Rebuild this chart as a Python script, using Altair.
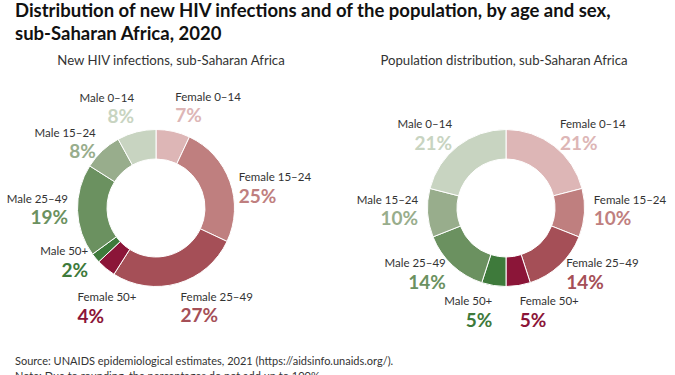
import altair as alt
import pandas as pd

categories = ["Female 0–14", "Female 15–24", "Female 25–49", "Female 50+",
              "Male 50+", "Male 25–49", "Male 15–24", "Male 0–14"]
hiv_values = [7, 25, 27, 4, 2, 19, 8, 8]
pop_values = [21, 10, 14, 5, 5, 14, 10, 21]
colors = ["#ddb6b6", "#bf7f7f", "#a54f57", "#8b1538",
          "#3e7a3b", "#6b9160", "#98ad8c", "#c8d4c1"]

main_title = ["Distribution of new HIV infections and of the population, by age and sex,",
              "sub-Saharan Africa, 2020"]
left_title = "New HIV infections, sub-Saharan Africa"
right_title = "Population distribution, sub-Saharan Africa"
footer = ["Source: UNAIDS epidemiological estimates, 2021 (https://aidsinfo.unaids.org/).",
          "Note:  Due to rounding, the percentages do not add up to 100%."]

FONT = "Lato"
W, H = 300, 240
CX, CY = W / 2, H / 2
RX, RY = 88, 105
color_scale = alt.Scale(domain=categories, range=colors)


def donut(values, title, dx):
    df = pd.DataFrame({
        "idx": list(range(len(categories))),
        "cat": categories,
        "val": values,
    })
    df["sex"] = [c.split(" ")[0] for c in categories]
    df["pct"] = [f"{v}%" for v in values]

    base = alt.Chart(df)
    arcs = base.mark_arc(innerRadius=49, outerRadius=78.5, stroke="white",
                         strokeWidth=1).encode(
        theta=alt.Theta("val:Q", stack=True),
        order=alt.Order("idx:Q", sort="ascending"),
        color=alt.Color("cat:N", scale=color_scale, legend=None),
    )

    # labels sit on a rounded-square curve around the ring; a label whose text
    # would run back across the ring (female on the left half) is pushed out
    lab = base.transform_window(
        cum="sum(val)", sort=[alt.SortField("idx")], frame=[None, 0]
    ).transform_joinaggregate(total="sum(val)").transform_calculate(
        a="2*PI*(datum.cum - datum.val/2)/datum.total"
    ).transform_calculate(
        k="(datum.sex == 'Female' && sin(datum.a) < 0) || (datum.sex == 'Male' && sin(datum.a) > 0) ? 1.4 : 1",
        c="cos(datum.a)",
    ).transform_calculate(
        lx=f"{CX} + datum.k*{RX}*sin(datum.a)",
        ly=f"{CY} - datum.k*{RY}*(datum.c < 0 ? -1 : 1)*pow(abs(datum.c), 1.5)",
    )

    layers = [arcs]
    for sex, align in (("Female", "left"), ("Male", "right")):
        sub = lab.transform_filter(alt.datum.sex == sex)
        enc = dict(x=alt.X("lx:Q", scale=None, axis=None),
                   y=alt.Y("ly:Q", scale=None, axis=None))
        names = sub.mark_text(align=align, baseline="middle", dy=-9, font=FONT,
                              fontSize=11.5, color="#333333").encode(
            text="cat:N", **enc)
        pcts = sub.mark_text(align=align, baseline="middle", dy=9.5, font=FONT,
                             fontSize=19, fontWeight="bold").encode(
            text="pct:N",
            color=alt.Color("cat:N", scale=color_scale, legend=None), **enc)
        layers += [names, pcts]

    return alt.layer(*layers).properties(
        width=W, height=H,
        title=alt.TitleParams(title, font=FONT, fontSize=13.2, fontWeight="normal",
                              color="#333333", anchor="middle", dx=dx, offset=20),
    )


left = donut(hiv_values, left_title, 15)
right = donut(pop_values, right_title, -2)

inner = alt.hconcat(left, right, spacing=50, bounds="flush").properties(
    title=alt.TitleParams(footer, orient="bottom", anchor="start", font=FONT,
                          fontSize=11, fontWeight="normal", color="#333333",
                          lineHeight=15, offset=25.5, dx=9)
)

chart = alt.vconcat(inner).properties(
    title=alt.TitleParams(main_title, anchor="start", font=FONT, fontSize=18.5,
                          fontWeight="bold", color="#111111", lineHeight=23,
                          dx=9, offset=10),
    padding={"left": 6, "top": 2, "right": 0, "bottom": 0},
    background="white",
).configure_view(strokeWidth=0, stroke="transparent")

chart.save("out.html", embed_options={"renderer": "svg", "actions": False})
